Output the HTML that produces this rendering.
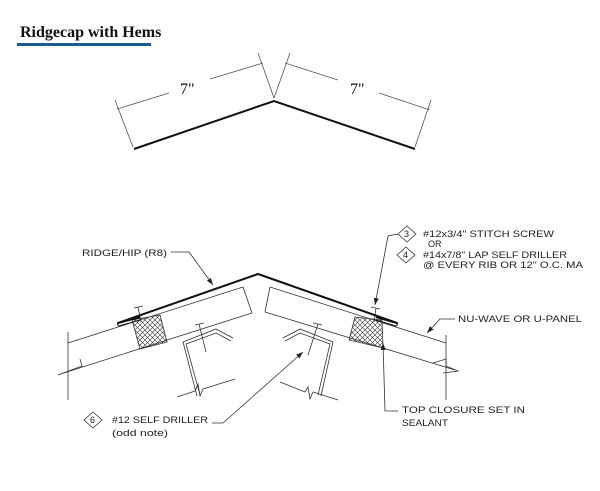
<!DOCTYPE html>
<html><head><meta charset="utf-8"><style>
html,body{margin:0;padding:0;background:#fff;width:600px;height:491px;overflow:hidden}
svg{display:block}
.c{font-family:"Liberation Sans",sans-serif;font-size:9px;fill:#222}
</style></head><body>
<svg width="600" height="491" viewBox="0 0 600 491" xmlns="http://www.w3.org/2000/svg">
<defs><marker id="a" markerWidth="8" markerHeight="6" refX="7" refY="3" orient="auto" markerUnits="userSpaceOnUse"><path d="M0,0.5 L7,3 L0,5.5 Z" fill="#222"/></marker>
<pattern id="h" width="5" height="5" patternUnits="userSpaceOnUse"><path d="M0,5 L5,0 M0,0 L5,5" stroke="#333" stroke-width="0.6"/></pattern></defs>
<!-- title -->
<text x="20" y="37" font-family="Liberation Serif,serif" font-weight="bold" font-size="16" fill="#111">Ridgecap with Hems</text>
<rect x="17" y="43" width="134" height="3" fill="#1b5c94"/>
<!-- top diagram -->
<polyline points="134,149 274,101 415,149" fill="none" stroke="#111" stroke-width="2"/>
<g stroke="#555" stroke-width="0.8" fill="none">
<line x1="115" y1="100" x2="133" y2="147"/>
<line x1="258" y1="53" x2="274" y2="98"/>
<line x1="290" y1="53" x2="274" y2="98"/>
<line x1="431" y1="100" x2="415" y2="147"/>
<line x1="117" y1="109" x2="169" y2="93"/><line x1="210" y1="79" x2="263" y2="63"/>
<line x1="285" y1="63" x2="338" y2="80"/><line x1="379" y1="93" x2="430" y2="110"/>
</g>
<text x="180" y="94" font-family="Liberation Serif,serif" font-size="16" fill="#111">7"</text>
<text x="350" y="94" font-family="Liberation Serif,serif" font-size="16" fill="#111">7"</text>
<!-- bottom diagram -->
<g stroke="#333" stroke-width="0.8" fill="none">
<!-- left panel -->
<line x1="68" y1="343" x2="243" y2="287"/><line x1="243" y1="287" x2="252" y2="313"/>
<line x1="252" y1="313" x2="70" y2="371"/>
<polyline points="70,371 58,375 82,366 80,359"/>
<line x1="68" y1="332" x2="68" y2="400"/>
<!-- right panel -->
<line x1="270" y1="287" x2="446" y2="343"/><line x1="270" y1="287" x2="265" y2="312"/>
<line x1="265" y1="312" x2="455" y2="370"/>
<polyline points="433,363 446,359 446,366 458,371 443,373"/>
<line x1="446" y1="335" x2="446" y2="400"/>
<!-- closures -->
<polygon points="132,320 160,315 167,342 140,349" fill="url(#h)"/>
<polygon points="355,317 382,320 383,348 349,340" fill="url(#h)"/>
<!-- screws -->
<line x1="134" y1="308" x2="143" y2="306"/><line x1="138" y1="307" x2="141" y2="322"/>
<line x1="371" y1="307" x2="380" y2="309"/><line x1="376" y1="308" x2="374" y2="322"/>
<line x1="195" y1="325" x2="204" y2="323"/><line x1="199" y1="324" x2="206" y2="352"/>
<line x1="313" y1="323" x2="322" y2="325"/><line x1="318" y1="324" x2="308" y2="355"/>
<!-- purlins -->
<polyline points="233,338 216,329 183,342 197,396"/>
<polyline points="231,341 216,333 186,344 200,395"/>
<polyline points="283,338 300,329 333,342 321,396"/>
<polyline points="285,341 300,333 330,344 318,395"/>
<polyline points="177,397 195,391 198,384 200,396 203,389 235,379"/>
<polyline points="280,382 305,392 308,387 310,399 313,392 338,400"/>
<!-- leaders -->
<polyline points="171,252 189,252 213,285" marker-end="url(#a)"/>
<polyline points="398,234 388,236 375,305" marker-end="url(#a)"/>
<polyline points="455,319 440,319 427,333" marker-end="url(#a)"/>
<polyline points="398,411 385,411 383,343" marker-end="url(#a)"/>
<polyline points="212,423 223,423 303,352" marker-end="url(#a)"/>
<!-- diamonds -->
<polygon points="407,226 416,234 407,242 398,234" fill="#fff"/>
<polygon points="406,247 415,255 406,263 397,255" fill="#fff"/>
<polygon points="93,412 102,420 93,428 84,420" fill="#fff"/>
</g>
<!-- ridge cap -->
<polyline points="140,317 118,323 258,274 397,323 376,317" fill="none" stroke="#111" stroke-width="2" stroke-linejoin="round"/>
<path d="M118,323 a2,2 0 0 0 1,3 L140,320" fill="none" stroke="#111" stroke-width="1"/>
<path d="M397,323 a2,2 0 0 1 -1,3 L376,320" fill="none" stroke="#111" stroke-width="1"/>
<!-- labels -->
<g class="c">
<text x="404" y="237" font-size="9">3</text><text x="403" y="258" font-size="9">4</text><text x="90" y="423" font-size="9">6</text>
<text x="82" y="256" textLength="85" lengthAdjust="spacingAndGlyphs">RIDGE/HIP (R8)</text>
<text x="423" y="237" textLength="131" lengthAdjust="spacingAndGlyphs">#12x3/4" STITCH SCREW</text>
<text x="428" y="247">OR</text>
<text x="423" y="258" textLength="144" lengthAdjust="spacingAndGlyphs">#14x7/8" LAP SELF DRILLER</text>
<text x="423" y="268" textLength="160" lengthAdjust="spacingAndGlyphs">@ EVERY RIB OR 12" O.C. MA</text>
<text x="458" y="322" textLength="124" lengthAdjust="spacingAndGlyphs">NU-WAVE OR U-PANEL</text>
<text x="402" y="413" textLength="123" lengthAdjust="spacingAndGlyphs">TOP CLOSURE SET IN</text>
<text x="402" y="426" textLength="46" lengthAdjust="spacingAndGlyphs">SEALANT</text>
<text x="112" y="423" textLength="96" lengthAdjust="spacingAndGlyphs">#12 SELF DRILLER</text>
<text x="112" y="436" textLength="56" lengthAdjust="spacingAndGlyphs">(odd note)</text>
</g>
</svg>
</body></html>
